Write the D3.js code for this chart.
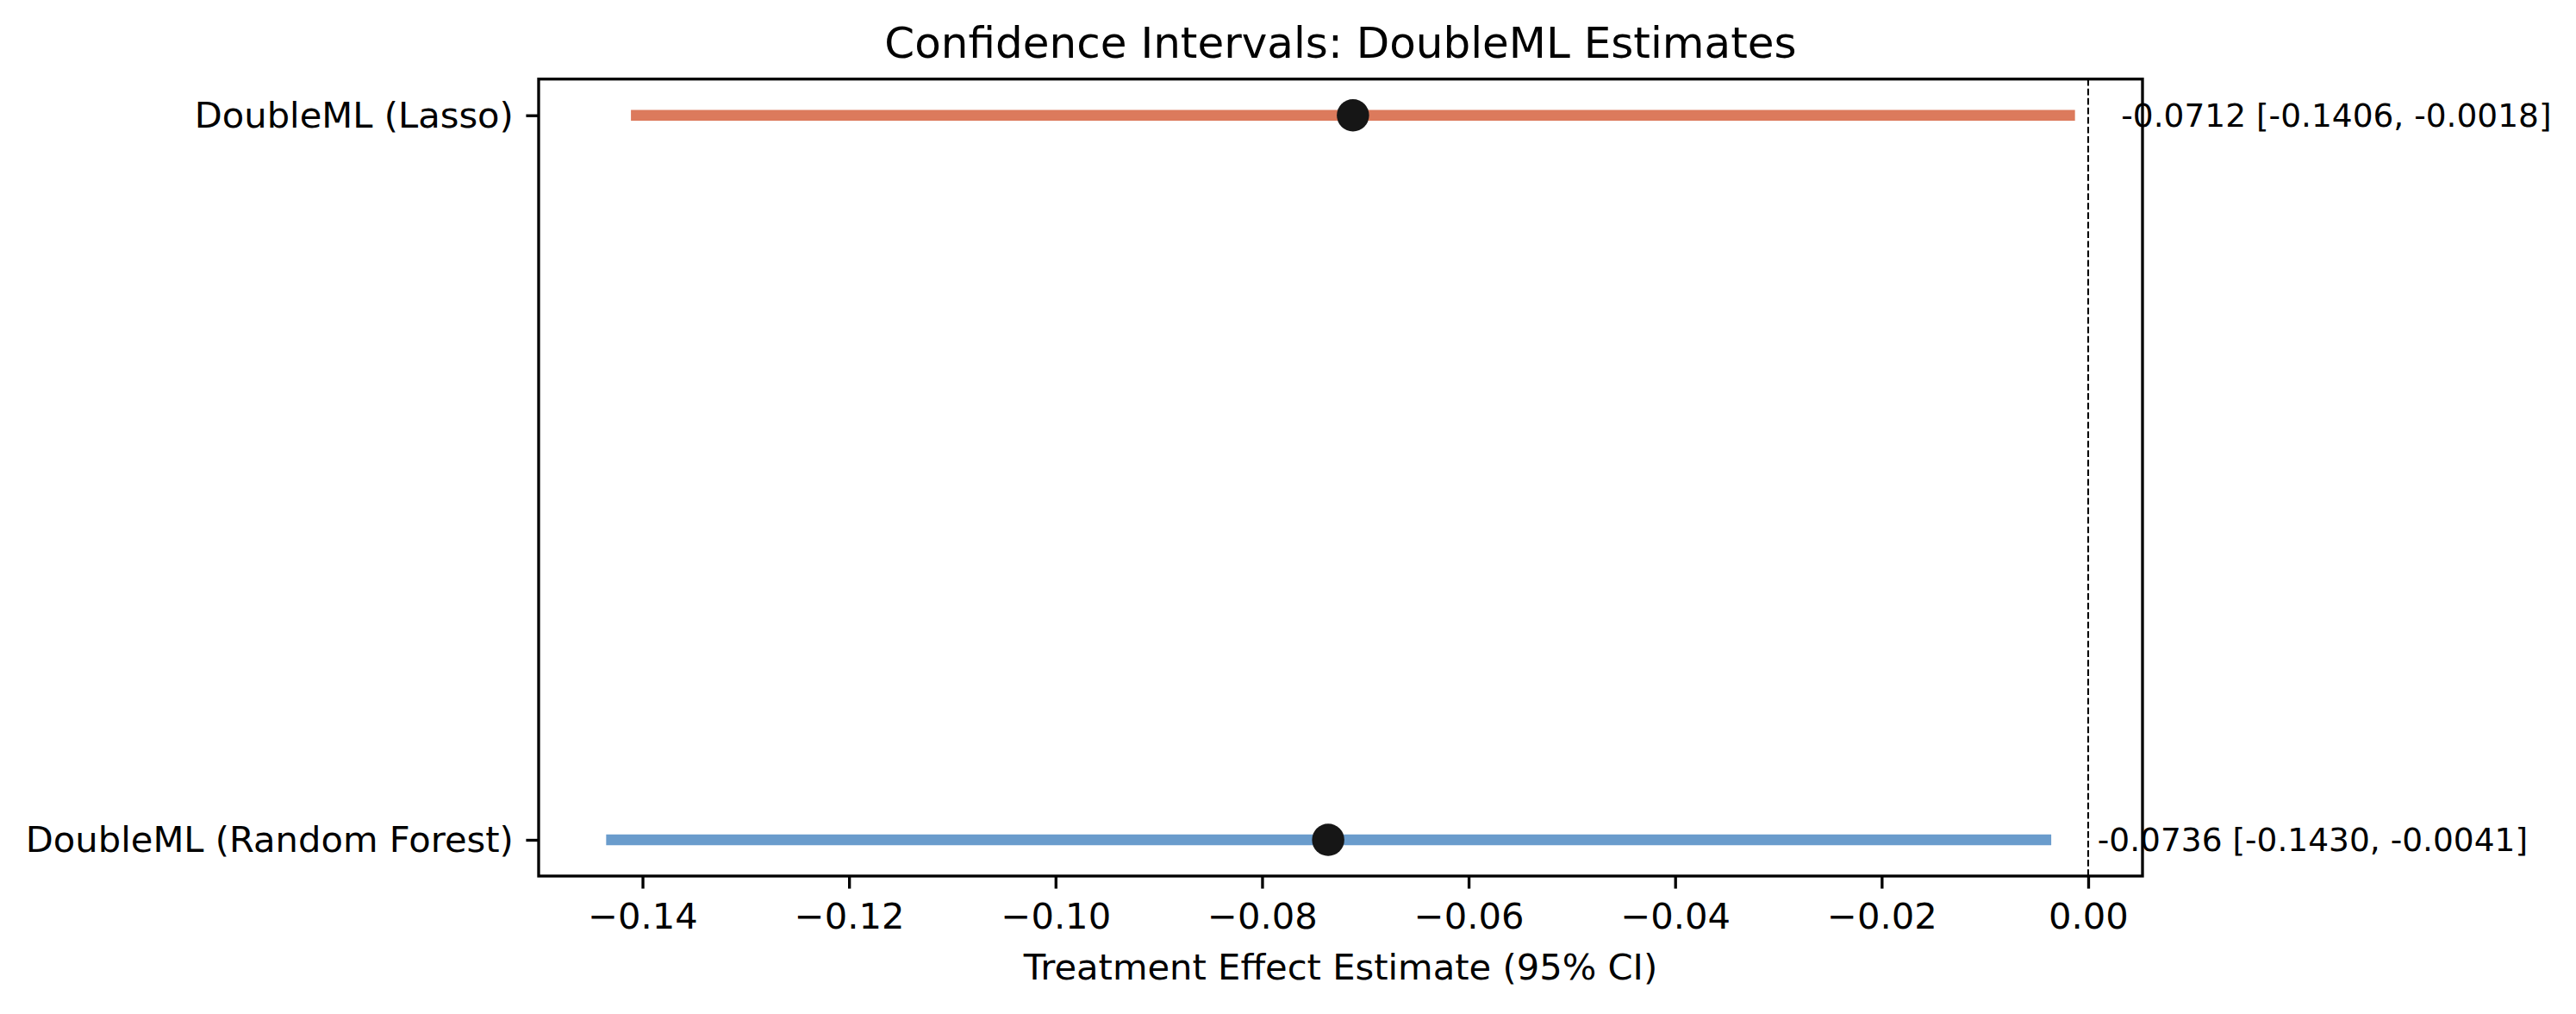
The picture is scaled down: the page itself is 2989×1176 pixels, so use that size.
<!DOCTYPE html>
<html>
<head>
<meta charset="utf-8">
<title>Confidence Intervals: DoubleML Estimates</title>
<script src="https://cdn.jsdelivr.net/npm/d3@7"></script>
<style>
  html, body { margin: 0; padding: 0; background: #fff; }
  svg { display: block; font-family: "DejaVu Sans", sans-serif; }
</style>
</head>
<body>
<svg id="chart"></svg>
<script>
// Confidence interval chart for the two DoubleML estimates

const methods = ['DoubleML (Random Forest)', 'DoubleML (Lasso)'];
const estimates = [-0.0736, -0.0712];
const lowerCI = [-0.1430, -0.1406];
const upperCI = [-0.0041, -0.0018];
const barColors = ['#6a9ccc', '#dc7a5c'];
const xTicks = [-0.14, -0.12, -0.10, -0.08, -0.06, -0.04, -0.02, 0.00];

const width = 2989;
const height = 1176;
const pt = 300 / 72; // figure was saved at 300 dpi

const margin = { left: 625, right: 2486, top: 91.7, bottom: 1016 };

const svg = d3.select('#chart')
  .attr('width', width)
  .attr('height', height);

// Build rows from the arrays
const rows = methods.map((m, i) => ({
  name: m,
  pos: i,
  est: estimates[i],
  lo: lowerCI[i],
  hi: upperCI[i],
  color: barColors[i]
}));

// Scales (matplotlib-style 5% margins)
const xMin = d3.min(lowerCI), xMax = d3.max(upperCI);
const xPad = (xMax - xMin) * 0.05;
const x = d3.scaleLinear()
  .domain([xMin - xPad, xMax + xPad])
  .range([margin.left, margin.right]);

const y = d3.scaleLinear()
  .domain([-0.05, methods.length - 1 + 0.05])
  .range([margin.bottom, margin.top]);

// Zero reference line
svg.append('line')
  .attr('x1', x(0)).attr('x2', x(0))
  .attr('y1', margin.top).attr('y2', margin.bottom)
  .attr('stroke', '#000')
  .attr('stroke-width', 0.5 * pt)
  .attr('stroke-dasharray', `${3.7 * 0.5 * pt} ${1.6 * 0.5 * pt}`);

// Interval bars
svg.append('g')
  .selectAll('line')
  .data(rows)
  .enter().append('line')
  .attr('x1', d => x(d.lo))
  .attr('x2', d => x(d.hi))
  .attr('y1', d => y(d.pos))
  .attr('y2', d => y(d.pos))
  .attr('stroke', d => d.color)
  .attr('stroke-width', 3 * pt)
  .attr('stroke-linecap', 'square');

// Point estimates
svg.append('g')
  .selectAll('circle')
  .data(rows)
  .enter().append('circle')
  .attr('cx', d => x(d.est))
  .attr('cy', d => y(d.pos))
  .attr('r', 4.5 * pt)
  .attr('fill', '#161616');

// Annotations to the right of each interval
svg.append('g')
  .selectAll('text')
  .data(rows)
  .enter().append('text')
  .attr('x', d => x(d.hi + 0.005))
  .attr('y', d => y(d.pos))
  .attr('dominant-baseline', 'central')
  .attr('font-size', 9 * pt)
  .attr('fill', '#000')
  .text(d => `${d.est.toFixed(4)} [${d.lo.toFixed(4)}, ${d.hi.toFixed(4)}]`);

// X axis
const xAxis = svg.append('g')
  .attr('transform', `translate(0,${margin.bottom})`)
  .call(d3.axisBottom(x)
    .tickValues(xTicks)
    .tickFormat(d3.format('.2f'))
    .tickSizeInner(3.5 * pt)
    .tickSizeOuter(0)
    .tickPadding(16.5));
xAxis.select('.domain').remove();
xAxis.selectAll('.tick line').attr('stroke', '#000').attr('stroke-width', 0.8 * pt);
xAxis.selectAll('.tick text')
  .attr('font-size', 10 * pt)
  .attr('font-family', '"DejaVu Sans", sans-serif')
  .attr('fill', '#000');

// Y axis
const yAxis = svg.append('g')
  .attr('transform', `translate(${margin.left},0)`)
  .call(d3.axisLeft(y)
    .tickValues(rows.map(d => d.pos))
    .tickFormat(i => methods[i])
    .tickSizeInner(3.5 * pt)
    .tickSizeOuter(0)
    .tickPadding(3.5 * pt));
yAxis.select('.domain').remove();
yAxis.selectAll('.tick line').attr('stroke', '#000').attr('stroke-width', 0.8 * pt);
yAxis.selectAll('.tick text')
  .attr('font-size', 10 * pt)
  .attr('font-family', '"DejaVu Sans", sans-serif')
  .attr('fill', '#000');

// Frame (spines)
svg.append('rect')
  .attr('x', margin.left)
  .attr('y', margin.top)
  .attr('width', margin.right - margin.left)
  .attr('height', margin.bottom - margin.top)
  .attr('fill', 'none')
  .attr('stroke', '#000')
  .attr('stroke-width', 0.8 * pt);

// Title and axis label
svg.append('text')
  .attr('x', (margin.left + margin.right) / 2)
  .attr('y', 67)
  .attr('text-anchor', 'middle')
  .attr('font-size', 12 * pt)
  .text('Confidence Intervals: DoubleML Estimates');

svg.append('text')
  .attr('x', (margin.left + margin.right) / 2)
  .attr('y', 1136)
  .attr('text-anchor', 'middle')
  .attr('font-size', 10 * pt)
  .text('Treatment Effect Estimate (95% CI)');
</script>
</body>
</html>
